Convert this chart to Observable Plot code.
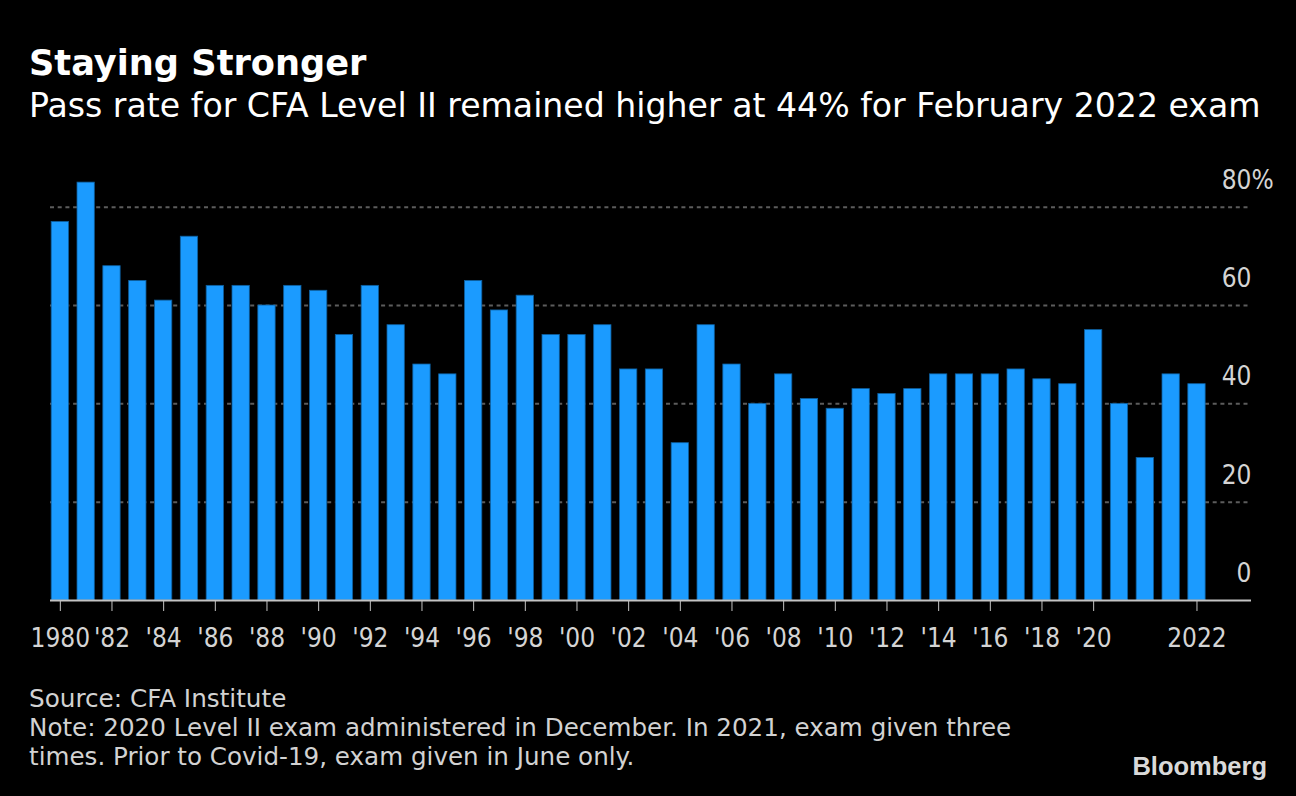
<!DOCTYPE html>
<html>
<head>
<meta charset="utf-8">
<script src="https://cdn.jsdelivr.net/npm/d3@7"></script>
<script src="https://cdn.jsdelivr.net/npm/@observablehq/plot@0.6"></script>
<style>
  html, body { margin: 0; padding: 0; background: #000; }
  body { width: 1296px; height: 796px; position: relative; overflow: hidden;
         font-family: "DejaVu Sans", sans-serif; }
  .t { position: absolute; white-space: nowrap; line-height: 1; }
  #title { left: 29px; top: 45px; font-size: 35.2px; font-weight: bold; color: #fff; }
  #subtitle { left: 29px; top: 89px; font-size: 33.15px; color: #fff; }
  #chart { position: absolute; left: 0; top: 150px; }
  #source { left: 29px; top: 686.8px; font-size: 24.7px; color: #d2d2d2; }
  #note { left: 29px; top: 712.8px; font-size: 24.6px; line-height: 29px; color: #d2d2d2; }
  #brand { right: 29px; top: 754.4px; font-size: 25.5px; font-weight: bold; color: #d9d9d9;
           font-family: "Liberation Sans", Arial, sans-serif; }
</style>
</head>
<body>
<div class="t" id="title">Staying Stronger</div>
<div class="t" id="subtitle">Pass rate for CFA Level II remained higher at 44% for February 2022 exam</div>
<div id="chart"></div>
<div class="t" id="source">Source: CFA Institute</div>
<div class="t" id="note">Note: 2020 Level II exam administered in December. In 2021, exam given three<br>times. Prior to Covid-19, exam given in June only.</div>
<div class="t" id="brand">Bloomberg</div>
<script>
// Exams (2021 was given three times)
const exams = ["1980","1981","1982","1983","1984","1985","1986","1987","1988","1989",
  "1990","1991","1992","1993","1994","1995","1996","1997","1998","1999",
  "2000","2001","2002","2003","2004","2005","2006","2007","2008","2009",
  "2010","2011","2012","2013","2014","2015","2016","2017","2018","2019",
  "2020","2021a","2021b","2021c","2022"];
// Pass rate (%)
const passRates = [77,85,68,65,61,74,64,64,60,64,
  63,54,64,56,48,46,65,59,62,54,
  54,56,47,47,32,56,48,40,46,41,
  39,43,42,43,46,46,46,47,45,44,
  55,40,29,46,44];
// x tick positions and labels
const tickExams = ["1980","1982","1984","1986","1988","1990","1992","1994","1996","1998",
  "2000","2002","2004","2006","2008","2010","2012","2014","2016","2018","2020","2022"];
const tickLabels = ["1980","'82","'84","'86","'88","'90","'92","'94","'96","'98",
  "'00","'02","'04","'06","'08","'10","'12","'14","'16","'18","'20","2022"];
const yTicks = [0, 20, 40, 60, 80];
const gridTicks = [20, 40, 60, 80];

const data = exams.map((e, i) => ({exam: e, rate: passRates[i]}));
const labelOf = new Map(tickExams.map((e, i) => [e, tickLabels[i]]));

const chart = Plot.plot({
  width: 1296,
  height: 520,
  marginLeft: 50,
  marginRight: 45,
  marginTop: 0,
  marginBottom: 70,
  style: {background: "transparent", color: "#d4d4d4",
          fontFamily: "'DejaVu Sans Condensed', 'DejaVu Sans', sans-serif", fontSize: "26px"},
  x: {type: "band", domain: exams, range: [46.9, 1209.4], paddingInner: 0.33, paddingOuter: 0.165, axis: null},
  y: {domain: [0, 80], range: [450, 56.7], axis: null},
  marks: [
    Plot.ruleY(gridTicks, {stroke: "#5c5c5c", strokeWidth: 2, strokeDasharray: "4,3.7"}),
    Plot.barY(data, {x: "exam", y: "rate", fill: "#1b9bff", stroke: "#0e5f9e", strokeWidth: 0.8}),
    Plot.ruleY([0], {stroke: "#c4c4c4", strokeWidth: 2}),
    Plot.axisX({ticks: tickExams, tickFormat: d => labelOf.get(d), tickSize: 11, tickPadding: 17,
      fontSize: 26, stroke: "#c4c4c4", fill: "#d4d4d4", label: null}),
    Plot.text(yTicks, {y: d => d, text: d => String(d), frameAnchor: "right", textAnchor: "end",
      dy: -27, fill: "#d4d4d4", fontSize: 26}),
    Plot.text([80], {y: d => d, text: () => "%", frameAnchor: "right", textAnchor: "start",
      dy: -27, fill: "#d4d4d4", fontSize: 26})
  ]
});
document.getElementById("chart").appendChild(chart);
</script>
</body>
</html>
